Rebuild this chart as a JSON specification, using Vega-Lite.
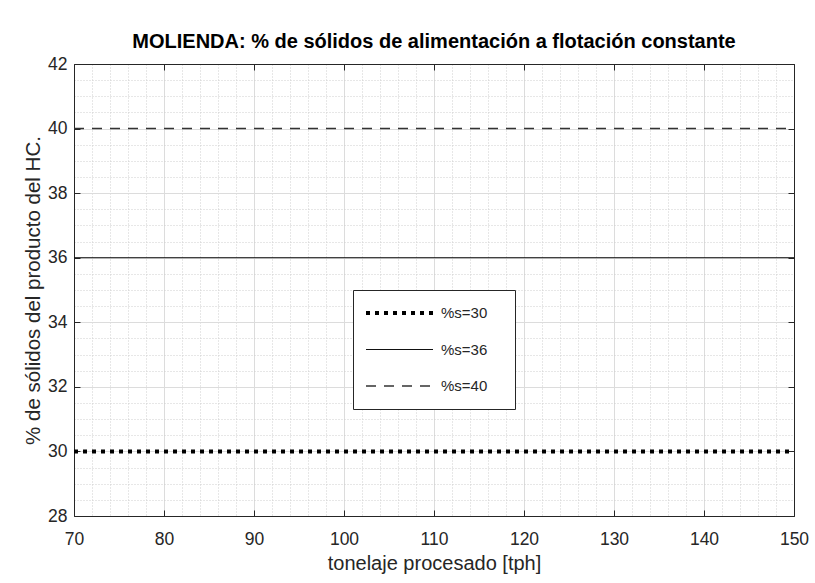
{
  "$schema": "https://vega.github.io/schema/vega-lite/v6.json",
  "width": 720,
  "height": 452,
  "autosize": {"type": "none"},
  "padding": {"left": 74, "top": 64, "right": 21, "bottom": 67},
  "background": "white",
  "title": {
    "text": "MOLIENDA: % de sólidos de alimentación a flotación constante",
    "font": "Liberation Sans",
    "fontSize": 20,
    "fontWeight": "bold",
    "color": "#000000",
    "anchor": "middle",
    "offset": 3
  },
  "data": {
    "values": [
      {"serie": "%s=30", "y": 30, "x_inicio": 70, "x_fin": 150},
      {"serie": "%s=36", "y": 36, "x_inicio": 70, "x_fin": 150},
      {"serie": "%s=40", "y": 40, "x_inicio": 70, "x_fin": 150}
    ]
  },
  "resolve": {"axis": {"x": "independent", "y": "independent"}},
  "layer": [
    {
      "mark": {"type": "rule", "opacity": 0},
      "encoding": {
        "x": {
          "field": "x_inicio", "type": "quantitative",
          "scale": {"domain": [70, 150], "nice": false, "zero": false},
          "axis": {
            "orient": "bottom",
            "values": [72, 74, 76, 78, 82, 84, 86, 88, 92, 94, 96, 98, 102, 104, 106, 108, 112, 114, 116, 118, 122, 124, 126, 128, 132, 134, 136, 138, 142, 144, 146, 148],
            "grid": true, "gridColor": "#cfcfcf", "gridDash": [1, 2], "gridWidth": 1,
            "labels": false, "ticks": false, "domain": false, "title": null
          }
        },
        "x2": {"field": "x_fin"},
        "y": {
          "field": "y", "type": "quantitative",
          "scale": {"domain": [28, 42], "nice": false, "zero": false},
          "axis": {
            "orient": "left",
            "values": [28.5, 29, 29.5, 30.5, 31, 31.5, 32.5, 33, 33.5, 34.5, 35, 35.5, 36.5, 37, 37.5, 38.5, 39, 39.5, 40.5, 41, 41.5],
            "grid": true, "gridColor": "#cfcfcf", "gridDash": [1, 2], "gridWidth": 1,
            "labels": false, "ticks": false, "domain": false, "title": null
          }
        }
      }
    },
    {
      "mark": {"type": "rule", "opacity": 0},
      "encoding": {
        "x": {
          "field": "x_inicio", "type": "quantitative",
          "axis": {
            "orient": "bottom",
            "values": [80, 90, 100, 110, 120, 130, 140],
            "grid": true, "gridColor": "#dcdcdc", "gridWidth": 1,
            "labels": false, "ticks": false, "domain": false, "title": null
          }
        },
        "x2": {"field": "x_fin"},
        "y": {
          "field": "y", "type": "quantitative",
          "axis": {
            "orient": "left",
            "values": [30, 32, 34, 36, 38, 40],
            "grid": true, "gridColor": "#dcdcdc", "gridWidth": 1,
            "labels": false, "ticks": false, "domain": false, "title": null
          }
        }
      }
    },
    {
      "mark": {"type": "rule", "opacity": 0},
      "encoding": {
        "x": {
          "field": "x_inicio", "type": "quantitative",
          "axis": {
            "orient": "top",
            "values": [70, 80, 90, 100, 110, 120, 130, 140, 150],
            "grid": false, "labels": false, "ticks": true, "tickSize": -6,
            "tickColor": "#262626", "domain": true, "domainColor": "#262626", "title": null
          }
        },
        "x2": {"field": "x_fin"},
        "y": {
          "field": "y", "type": "quantitative",
          "axis": {
            "orient": "right",
            "values": [28, 30, 32, 34, 36, 38, 40, 42],
            "grid": false, "labels": false, "ticks": true, "tickSize": -6,
            "tickColor": "#262626", "domain": true, "domainColor": "#262626", "title": null
          }
        }
      }
    },
    {
      "mark": {"type": "rule"},
      "encoding": {
        "x": {
          "field": "x_inicio", "type": "quantitative",
          "axis": {
            "orient": "bottom",
            "values": [70, 80, 90, 100, 110, 120, 130, 140, 150],
            "grid": false, "ticks": true, "tickSize": -6, "tickColor": "#262626",
            "domain": true, "domainColor": "#262626",
            "labelFont": "Liberation Sans", "labelFontSize": 17.5, "labelColor": "#262626",
            "labelPadding": 20, "labelFlush": false, "labelOverlap": false,
            "title": "tonelaje procesado [tph]",
            "titleFont": "Liberation Sans", "titleFontSize": 20, "titleFontWeight": "normal",
            "titleColor": "#262626", "titlePadding": 6
          }
        },
        "x2": {"field": "x_fin"},
        "y": {
          "field": "y", "type": "quantitative",
          "axis": {
            "orient": "left",
            "values": [28, 30, 32, 34, 36, 38, 40, 42],
            "grid": false, "ticks": true, "tickSize": -6, "tickColor": "#262626",
            "domain": true, "domainColor": "#262626",
            "labelFont": "Liberation Sans", "labelFontSize": 17.5, "labelColor": "#262626",
            "labelPadding": 13, "labelFlush": false, "labelOverlap": false,
            "title": "% de sólidos del producto del HC.",
            "titleFont": "Liberation Sans", "titleFontSize": 20.5, "titleFontWeight": "normal",
            "titleColor": "#262626", "titlePadding": 4
          }
        },
        "strokeDash": {
          "field": "serie", "type": "nominal",
          "scale": {"domain": ["%s=30", "%s=36", "%s=40"], "range": [[4, 5], [1, 0], [10, 8]]},
          "legend": {
            "orient": "none", "legendX": 279, "legendY": 226, "title": null,
            "symbolType": "stroke", "symbolSize": 4489, "clipHeight": 24,
            "rowPadding": 12.5, "padding": 11, "labelOffset": 6,
            "labelFont": "Liberation Sans", "labelFontSize": 15, "labelColor": "#262626",
            "labelExpr": "datum.label + '\u00a0\u00a0\u00a0\u00a0\u200b'",
            "strokeColor": "#262626", "fillColor": "white"
          }
        },
        "strokeWidth": {
          "field": "serie", "type": "nominal",
          "scale": {"type": "ordinal", "domain": ["%s=30", "%s=36", "%s=40"], "range": [4, 1, 1.6]}
        },
        "color": {
          "field": "serie", "type": "nominal",
          "scale": {"domain": ["%s=30", "%s=36", "%s=40"], "range": ["#000000", "#111111", "#333333"]}
        }
      }
    }
  ],
  "config": {
    "view": {"stroke": null},
    "font": "Liberation Sans"
  }
}
